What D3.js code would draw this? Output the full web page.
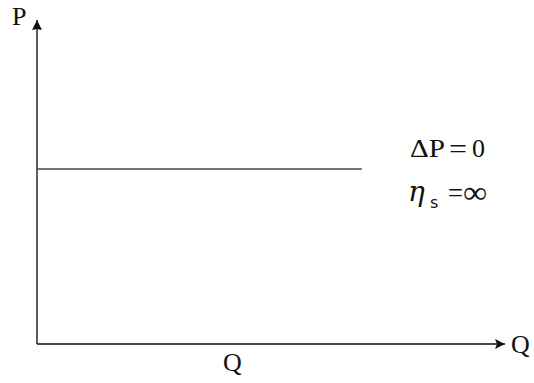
<!DOCTYPE html>
<html>
<head>
<meta charset="utf-8">
<script src="https://cdn.jsdelivr.net/npm/d3@7/dist/d3.min.js"></script>
<style>
  html, body { margin: 0; padding: 0; background: #fff; }
  svg { display: block; }
</style>
</head>
<body>
<svg id="chart" width="534" height="383" font-family="Liberation Serif, Times New Roman, serif"></svg>
<script>
// Perfectly elastic supply: a flat line at a fixed price
const supplyQ = [0, 0.694];
const supplyP = [0.54, 0.54];
const axisLabels = ["P", "Q"];
const annotations = ["ΔP", "=", "0", "η", "s", "=", "∞"];

const svg = d3.select("#chart");
const x = d3.scaleLinear().domain([0, 1]).range([37, 505]);
const y = d3.scaleLinear().domain([0, 1]).range([344, 20]);

const defs = svg.append("defs");
defs.append("marker")
  .attr("id", "arrow")
  .attr("viewBox", "0 0 10 10")
  .attr("refX", 10).attr("refY", 5)
  .attr("markerWidth", 11).attr("markerHeight", 10)
  .attr("markerUnits", "userSpaceOnUse")
  .attr("orient", "auto")
  .append("path")
  .attr("d", "M0,0 L10,5 L0,10 L2,5 Z")
  .attr("fill", "#111");

defs.append("marker")
  .attr("id", "arrowUp")
  .attr("viewBox", "0 0 10 10")
  .attr("refX", 10).attr("refY", 5)
  .attr("markerWidth", 14).attr("markerHeight", 10)
  .attr("markerUnits", "userSpaceOnUse")
  .attr("orient", "auto")
  .append("path")
  .attr("d", "M0,0 L10,5 L0,10 L1,5 Z")
  .attr("fill", "#111");

// Axes
svg.append("line")
  .attr("x1", x(0)).attr("y1", y(0))
  .attr("x2", x(0)).attr("y2", y(1))
  .attr("stroke", "#333").attr("stroke-width", 1.6)
  .attr("marker-end", "url(#arrowUp)");

svg.append("line")
  .attr("x1", x(0)).attr("y1", y(0))
  .attr("x2", x(1)).attr("y2", y(0))
  .attr("stroke", "#111").attr("stroke-width", 1.6)
  .attr("marker-end", "url(#arrow)");

// Supply line
const line = d3.line()
  .x((d, i) => x(supplyQ[i]))
  .y((d, i) => y(supplyP[i]));
svg.append("path")
  .datum(supplyQ)
  .attr("d", line)
  .attr("fill", "none")
  .attr("stroke", "#444")
  .attr("stroke-width", 1.6);

const label = (tx, ty, size, str) => svg.append("text")
  .attr("x", tx).attr("y", ty).attr("font-size", size).attr("fill", "#111").text(str);

// Axis labels
label(12, 25, 26, axisLabels[0]);
label(511, 353, 26, axisLabels[1]);
label(223, 371, 26, axisLabels[1]);

// Annotations: ΔP = 0
label(410, 157, 26, annotations[0])
  .attr("textLength", 35).attr("lengthAdjust", "spacingAndGlyphs");
label(449, 158, 28, annotations[1])
  .attr("textLength", 18).attr("lengthAdjust", "spacingAndGlyphs");
label(472, 157, 26, annotations[2]);

// Annotations: η_s = ∞
label(408, 201, 28, annotations[3])
  .attr("font-family", "DejaVu Serif").attr("font-style", "italic");
label(430, 208, 16, annotations[4]).attr("font-family", "DejaVu Sans");
label(448, 202, 27, annotations[5])
  .attr("textLength", 15).attr("lengthAdjust", "spacingAndGlyphs");
label(463, 203, 32, annotations[6])
  .attr("textLength", 24).attr("lengthAdjust", "spacingAndGlyphs");
</script>
</body>
</html>
